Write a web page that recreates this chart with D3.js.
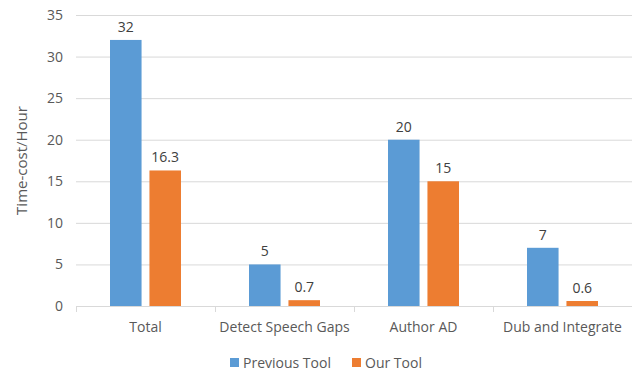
<!DOCTYPE html>
<html>
<head>
<meta charset="utf-8">
<script src="https://cdn.jsdelivr.net/npm/d3@7"></script>
<style>
  body { margin: 0; background: #fff; }
  text { font-family: "Open Sans", "Noto Sans", sans-serif; fill: #595959; }
</style>
</head>
<body>
<div id="chart"></div>
<script>
// chart data
var categories = ["Total", "Detect Speech Gaps", "Author AD", "Dub and Integrate"];
var seriesNames = ["Previous Tool", "Our Tool"];
var previousTool = [32, 5, 20, 7];
var ourTool = [16.3, 0.7, 15, 0.6];
var yTicks = [0, 5, 10, 15, 20, 25, 30, 35];
var colors = ["#5B9BD5", "#ED7D31"];

var margin = {left: 76, right: 0, top: 15, bottom: 69},
    width = 632 - margin.left - margin.right,
    height = 375 - margin.top - margin.bottom;

var svg = d3.select("#chart")
    .append("svg")
    .attr("width", 632)
    .attr("height", 375);

var g = svg.append("g")
    .attr("transform", "translate(" + margin.left + "," + margin.top + ")");

var x0 = d3.scaleBand()
    .domain(categories)
    .range([0, width])
    .paddingInner(0)
    .paddingOuter(0);

var x1 = d3.scaleBand()
    .domain(seriesNames)
    .range([34, x0.bandwidth() - 34])
    .paddingInner(0.2);

var y = d3.scaleLinear()
    .domain([0, 35])
    .range([height, 0]);

// gridlines
g.append("g")
    .selectAll("line")
    .data(yTicks.slice(1))
    .enter().append("line")
    .attr("x1", 0)
    .attr("x2", width)
    .attr("y1", function (d) { return y(d) + 0.5; })
    .attr("y2", function (d) { return y(d) + 0.5; })
    .attr("stroke", "#d9d9d9")
    .attr("stroke-width", 1);

// y axis labels
var yAxis = d3.axisLeft(y).tickValues(yTicks).tickSize(0).tickPadding(13);
var yg = g.append("g").call(yAxis);
yg.select(".domain").remove();
yg.selectAll("text").style("font-size", "14px").attr("fill", "#595959");

// x axis
var xAxis = d3.axisBottom(x0).tickSize(0).tickPadding(16);
var xg = g.append("g")
    .attr("transform", "translate(0," + height + ")")
    .call(xAxis);
xg.select(".domain").attr("stroke", "#d9d9d9");
xg.selectAll("text").style("font-size", "14px").attr("fill", "#595959");

// category separator ticks
g.append("g")
    .selectAll("line")
    .data(categories.concat(["end"]))
    .enter().append("line")
    .attr("x1", function (d, i) { return Math.round(i * x0.bandwidth()) + 0.5; })
    .attr("x2", function (d, i) { return Math.round(i * x0.bandwidth()) + 0.5; })
    .attr("y1", height)
    .attr("y2", height + 6)
    .attr("stroke", "#d9d9d9");

// bars
var rows = categories.map(function (c, i) {
    return {cat: c, values: [previousTool[i], ourTool[i]]};
});

var groups = g.selectAll(".grp")
    .data(rows)
    .enter().append("g")
    .attr("class", "grp")
    .attr("transform", function (d) { return "translate(" + x0(d.cat) + ",0)"; });

groups.selectAll("rect")
    .data(function (d) { return d.values.map(function (v, j) { return {s: seriesNames[j], v: v, j: j}; }); })
    .enter().append("rect")
    .attr("x", function (d) { return x1(d.s); })
    .attr("width", x1.bandwidth())
    .attr("y", function (d) { return y(d.v); })
    .attr("height", function (d) { return height - y(d.v); })
    .attr("fill", function (d) { return colors[d.j]; });

groups.selectAll(".lbl")
    .data(function (d) { return d.values.map(function (v, j) { return {s: seriesNames[j], v: v}; }); })
    .enter().append("text")
    .attr("class", "lbl")
    .attr("x", function (d) { return x1(d.s) + x1.bandwidth() / 2; })
    .attr("y", function (d) { return y(d.v) - 8; })
    .attr("text-anchor", "middle")
    .style("font-size", "14px")
    .style("fill", "#404040")
    .text(function (d) { return d.v; });

// y axis title
svg.append("text")
    .attr("transform", "translate(27," + (margin.top + height / 2) + ") rotate(-90)")
    .attr("text-anchor", "middle")
    .style("font-size", "15px")
    .text("Time-cost/Hour");

// legend
var legend = svg.append("g")
    .attr("transform", "translate(230,358)");
var li = legend.selectAll("g")
    .data(seriesNames)
    .enter().append("g")
    .attr("transform", function (d, i) { return "translate(" + (i * 122) + ",0)"; });
li.append("rect")
    .attr("width", 9)
    .attr("height", 9)
    .attr("y", 0)
    .attr("fill", function (d, i) { return colors[i]; });
li.append("text")
    .attr("x", 13)
    .attr("y", 10)
    .style("font-size", "14px")
    .text(function (d) { return d; });
</script>
</body>
</html>
